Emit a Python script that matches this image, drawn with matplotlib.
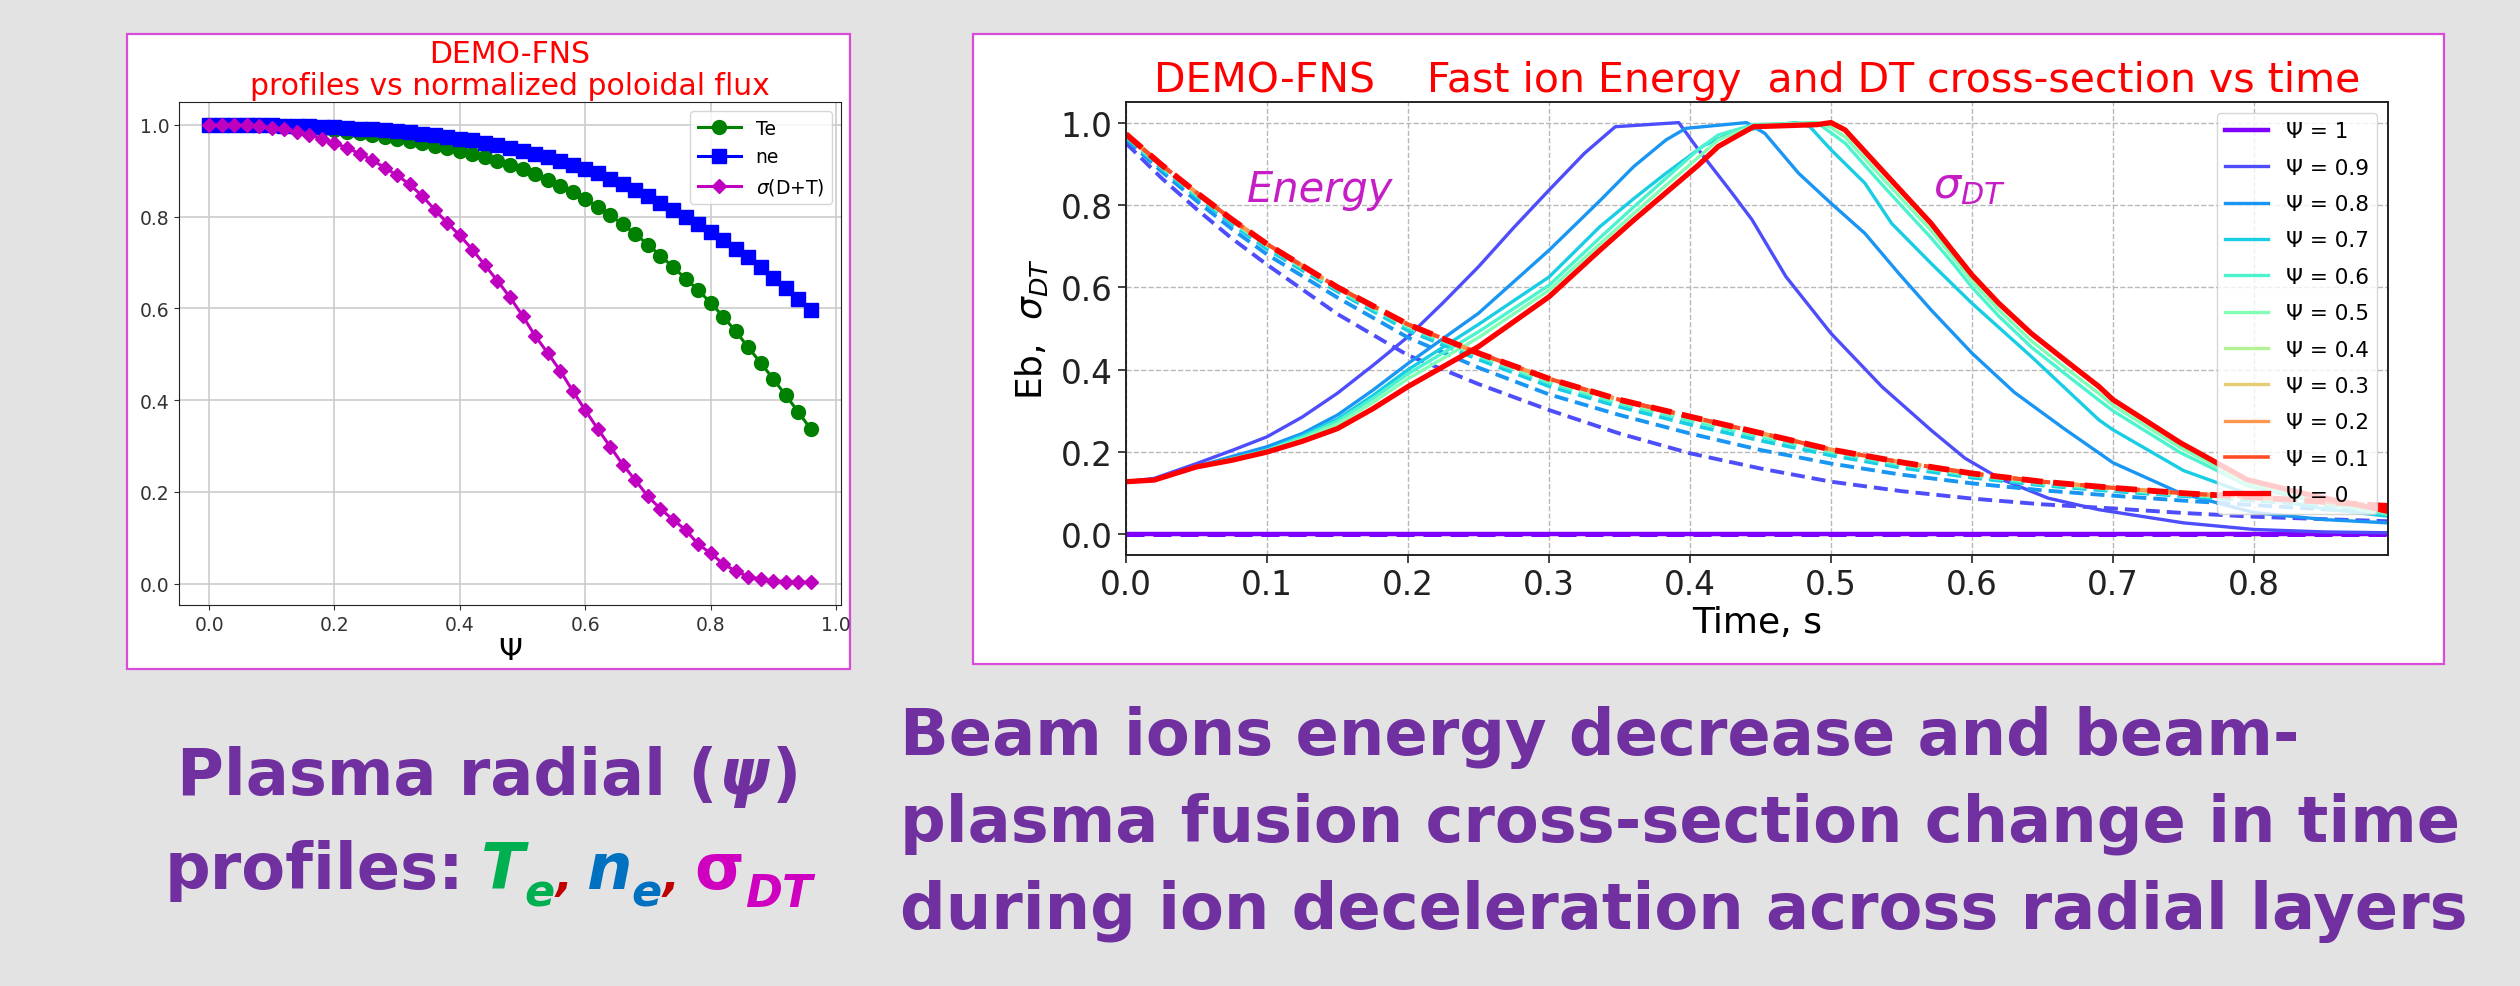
import numpy as np
import matplotlib
matplotlib.use("Agg")
import matplotlib.pyplot as plt
from matplotlib.patches import Rectangle

# ---------------- left chart: radial profiles vs normalized poloidal flux
psi = np.linspace(0.0, 0.96, 49)
te = [1.000, 1.000, 1.000, 0.999, 0.999, 0.998, 0.997, 0.995, 0.993, 0.991,
      0.988, 0.985, 0.982, 0.978, 0.974, 0.970, 0.965, 0.960, 0.955, 0.949,
      0.943, 0.936, 0.929, 0.921, 0.912, 0.903, 0.892, 0.880, 0.867, 0.853,
      0.838, 0.821, 0.803, 0.783, 0.762, 0.739, 0.715, 0.690, 0.665, 0.640,
      0.612, 0.582, 0.550, 0.515, 0.481, 0.446, 0.410, 0.374, 0.336]
ne = [1.000, 1.000, 1.000, 1.000, 0.999, 0.999, 0.998, 0.998, 0.997, 0.996,
      0.995, 0.994, 0.992, 0.991, 0.989, 0.987, 0.984, 0.981, 0.978, 0.974,
      0.970, 0.966, 0.961, 0.956, 0.950, 0.944, 0.937, 0.930, 0.922, 0.913,
      0.904, 0.894, 0.883, 0.871, 0.858, 0.845, 0.830, 0.815, 0.800, 0.784,
      0.767, 0.749, 0.730, 0.711, 0.691, 0.667, 0.644, 0.621, 0.597]
sig_dt = [1.000, 1.000, 1.000, 0.999, 0.997, 0.994, 0.990, 0.985, 0.978, 0.970,
          0.960, 0.950, 0.937, 0.923, 0.907, 0.890, 0.870, 0.845, 0.815, 0.786,
          0.759, 0.728, 0.694, 0.660, 0.624, 0.584, 0.540, 0.503, 0.464, 0.420,
          0.378, 0.337, 0.298, 0.259, 0.225, 0.190, 0.163, 0.139, 0.117, 0.086,
          0.066, 0.043, 0.027, 0.015, 0.009, 0.006, 0.004, 0.003, 0.003]

# ---------------- right chart: beam energy (dashed) and sigma_DT (solid) vs time
t_e = [0.0, 0.025, 0.05, 0.075, 0.10, 0.15, 0.20, 0.25, 0.30, 0.35, 0.40, 0.45, 0.50,
       0.55, 0.60, 0.65, 0.70, 0.75, 0.80, 0.85, 0.895]
eb_10 = [0.0] * 21
eb_09 = [0.95, 0.866, 0.79, 0.719, 0.655, 0.535, 0.435, 0.365, 0.302, 0.245, 0.197, 0.160,
         0.128, 0.105, 0.087, 0.073, 0.063, 0.052, 0.043, 0.037, 0.032]
eb_08 = [0.96, 0.882, 0.81, 0.742, 0.68, 0.575, 0.478, 0.405, 0.34, 0.29, 0.245, 0.205,
         0.172, 0.145, 0.124, 0.107, 0.094, 0.082, 0.071, 0.061, 0.053]
eb_07 = [0.965, 0.889, 0.82, 0.754, 0.693, 0.59, 0.495, 0.425, 0.36, 0.31, 0.267, 0.228,
         0.192, 0.162, 0.138, 0.119, 0.105, 0.093, 0.082, 0.071, 0.062]
eb_06 = [0.968, 0.893, 0.825, 0.76, 0.70, 0.595, 0.503, 0.433, 0.368, 0.318, 0.277, 0.237,
         0.200, 0.169, 0.143, 0.123, 0.109, 0.096, 0.086, 0.075, 0.065]
eb_05 = [0.97, 0.896, 0.828, 0.763, 0.703, 0.598, 0.507, 0.437, 0.373, 0.323, 0.282, 0.242,
         0.204, 0.172, 0.146, 0.126, 0.111, 0.098, 0.088, 0.077, 0.067]
eb_core = [0.972, 0.898, 0.83, 0.765, 0.705, 0.60, 0.51, 0.44, 0.378, 0.327, 0.286, 0.246,
           0.206, 0.175, 0.148, 0.128, 0.113, 0.100, 0.090, 0.079, 0.069]   # psi 0.4 .. 0

t_s10 = [0.0, 0.895]
s_10 = [0.0, 0.0]
t_s09 = [0.0, 0.02, 0.05, 0.076, 0.10, 0.125, 0.15, 0.175, 0.20, 0.225, 0.25, 0.275,
         0.30, 0.325, 0.347, 0.392, 0.406, 0.43, 0.444, 0.468, 0.50, 0.536, 0.571,
         0.595, 0.62, 0.654, 0.69, 0.75, 0.80, 0.85, 0.895]
s_09 = [0.128, 0.136, 0.172, 0.205, 0.237, 0.285, 0.343, 0.41, 0.48, 0.563, 0.65, 0.745,
        0.836, 0.925, 0.99, 1.0, 0.934, 0.828, 0.764, 0.626, 0.488, 0.359, 0.253,
        0.185, 0.135, 0.088, 0.060, 0.028, 0.012, 0.006, 0.004]
t_s08 = [0.0, 0.02, 0.05, 0.076, 0.10, 0.125, 0.15, 0.175, 0.20, 0.25, 0.30, 0.336, 0.36,
         0.383, 0.397, 0.44, 0.453, 0.477, 0.50, 0.524, 0.548, 0.571, 0.60, 0.63, 0.666,
         0.70, 0.748, 0.80, 0.85, 0.895]
s_08 = [0.128, 0.133, 0.165, 0.19, 0.213, 0.245, 0.29, 0.35, 0.415, 0.537, 0.69, 0.81,
        0.893, 0.958, 0.986, 1.0, 0.974, 0.877, 0.804, 0.731, 0.634, 0.545, 0.44, 0.345,
        0.255, 0.174, 0.10, 0.053, 0.036, 0.028]
t_s07 = [0.0, 0.02, 0.05, 0.076, 0.10, 0.125, 0.15, 0.175, 0.20, 0.25, 0.30, 0.336, 0.36,
         0.383, 0.41, 0.43, 0.46, 0.475, 0.485, 0.50, 0.524, 0.543, 0.571, 0.60, 0.642,
         0.69, 0.70, 0.75, 0.80, 0.85, 0.895]
s_07 = [0.128, 0.132, 0.163, 0.185, 0.205, 0.24, 0.28, 0.337, 0.40, 0.51, 0.625, 0.747,
        0.815, 0.877, 0.945, 0.975, 0.994, 1.0, 0.99, 0.934, 0.853, 0.755, 0.658, 0.561,
        0.432, 0.278, 0.254, 0.155, 0.093, 0.062, 0.044]
t_core = [0.0, 0.02, 0.05, 0.075, 0.10, 0.125, 0.15, 0.175, 0.20, 0.25, 0.30, 0.336, 0.359,
          0.383, 0.406, 0.42, 0.445, 0.49, 0.50, 0.51, 0.536, 0.571, 0.586, 0.60, 0.619,
          0.642, 0.666, 0.69, 0.70, 0.748, 0.765, 0.795, 0.843, 0.895]
s_06 = [0.128, 0.132, 0.165, 0.183, 0.204, 0.236, 0.275, 0.33, 0.39, 0.492, 0.605, 0.72,
        0.792, 0.865, 0.935, 0.97, 0.995, 1.0, 0.975, 0.95, 0.85, 0.72, 0.66, 0.60, 0.53,
        0.455, 0.39, 0.326, 0.30, 0.198, 0.17, 0.118, 0.08, 0.048]
s_05 = [0.128, 0.132, 0.165, 0.182, 0.202, 0.232, 0.268, 0.32, 0.378, 0.478, 0.593, 0.705,
        0.776, 0.848, 0.916, 0.958, 0.993, 1.0, 0.988, 0.965, 0.867, 0.738, 0.675, 0.614,
        0.545, 0.47, 0.405, 0.342, 0.313, 0.21, 0.18, 0.125, 0.087, 0.052]
s_core = [0.128, 0.132, 0.164, 0.18, 0.20, 0.226, 0.257, 0.305, 0.359, 0.456, 0.577, 0.69,
          0.76, 0.83, 0.897, 0.942, 0.99, 0.995, 1.0, 0.982, 0.885, 0.755, 0.69, 0.63,
          0.561, 0.488, 0.423, 0.359, 0.327, 0.222, 0.19, 0.133, 0.093, 0.056]   # psi 0.4 .. 0

psi_labels = ["1", "0.9", "0.8", "0.7", "0.6", "0.5", "0.4", "0.3", "0.2", "0.1", "0"]
sig_t = [t_s10, t_s09, t_s08, t_s07, t_core, t_core, t_core, t_core, t_core, t_core, t_core]
sig_v = [s_10, s_09, s_08, s_07, s_06, s_05, s_core, s_core, s_core, s_core, s_core]
eb_v = [eb_10, eb_09, eb_08, eb_07, eb_06, eb_05, eb_core, eb_core, eb_core, eb_core, eb_core]
lws = [3.2, 2.4, 2.4, 2.4, 2.4, 2.4, 2.4, 2.4, 2.4, 2.6, 3.8]

W, H = 2520, 987
PURPLE = "#7030a0"
MAG_FRAME = "#d94cd9"


def fx(px):
    return px / W


def fy(py):
    return 1 - py / H


fig = plt.figure(figsize=(W / 100, H / 100), dpi=100, facecolor="#e3e3e3")

# white panels with magenta frame
for x0, y0, x1, y1 in [(127, 35, 850, 670), (973, 35, 2444, 665)]:
    fig.add_artist(Rectangle((fx(x0), fy(y1)), (x1 - x0) / W, (y1 - y0) / H,
                             transform=fig.transFigure, facecolor="white",
                             edgecolor=MAG_FRAME, lw=1.6, zorder=0))

# ---- left axes
ax1 = fig.add_axes([fx(179), fy(606), (841 - 179) / W, (606 - 103) / H])
ax1.plot(psi, te, "-o", color="green", lw=2.2, ms=10, label="Te")
ax1.plot(psi, ne, "-s", color="blue", lw=2.2, ms=9.5, label="ne")
ax1.plot(psi, sig_dt, "-D", color="m", lw=2.2, ms=7.5, label=r"$\sigma$(D+T)")
ax1.grid(True, color="#cccccc", lw=1.2)
ax1.set_xticks([0.0, 0.2, 0.4, 0.6, 0.8, 1.0])
ax1.tick_params(labelsize=13.5, colors="#333333")
for s in ax1.spines.values():
    s.set_color("#222222")
ax1.set_xlabel("Ψ", fontsize=22, labelpad=2)
ax1.set_title("DEMO-FNS\nprofiles vs normalized poloidal flux", color="red",
              fontsize=21.5, pad=6, linespacing=1.1)
ax1.legend(loc="upper right", fontsize=13.5, handlelength=2.3)

# ---- right axes
ax2 = fig.add_axes([fx(1126), fy(556), (2388 - 1126) / W, (556 - 103) / H])
colors = plt.cm.rainbow(np.linspace(0, 1, len(psi_labels)))
for lab, ts, sv, ev, c, lw in zip(psi_labels, sig_t, sig_v, eb_v, colors, lws):
    ax2.plot(ts, sv, "-", color=c, lw=lw, label=f"Ψ = {lab}")
    ax2.plot(t_e, ev, "--", color=c, lw=lw + 0.4, dashes=(3.6, 1.8))
ax2.set_xlim(0, 0.895)
ax2.set_ylim(-0.05, 1.05)
ax2.set_xticks(np.arange(0, 0.85, 0.1))
ax2.grid(True, ls="--", color="#b8b8b8", lw=1.0)
ax2.tick_params(labelsize=23.5, length=6, width=1.2, colors="#222222")
for s in ax2.spines.values():
    s.set_color("#222222")
    s.set_linewidth(1.4)
ax2.set_xlabel("Time, s", fontsize=26, labelpad=3)
ax2.set_ylabel(r"Eb,  $\sigma_{DT}$", fontsize=26, labelpad=8)
ax2.set_title("DEMO-FNS    Fast ion Energy  and DT cross-section vs time",
              color="red", fontsize=29.5, pad=8)
ax2.text(0.086, 0.81, "Energy", color="#c41ec4", fontsize=30, style="italic")
ax2.text(0.572, 0.82, r"$\sigma_{DT}$", color="#c41ec4", fontsize=31)
ax2.legend(loc="upper right", fontsize=15.5, labelspacing=0.76, handlelength=2.0)

# ---- slide captions
cap = dict(fontsize=46, fontweight="bold", color=PURPLE, va="baseline")
fig.text(fx(900), fy(755), "Beam ions energy decrease and beam-", ha="left", **cap)
fig.text(fx(900), fy(842), "plasma fusion cross-section change in time", ha="left", **cap)
fig.text(fx(900), fy(929), "during ion deceleration across radial layers", ha="left", **cap)

renderer = fig.canvas.get_renderer()


def text_run(xc, yb, pieces):
    # pieces: (text, gap_before_px, dy_px, kwargs); centred on xc
    objs, widths = [], []
    for txt, gap, dy, kw in pieces:
        o = fig.text(0, fy(yb + dy), txt, va="baseline", ha="left", **kw)
        widths.append(o.get_window_extent(renderer).width)
        objs.append(o)
    total = sum(widths) + sum(p[1] for p in pieces)
    x = xc - total / 2
    for o, w, p in zip(objs, widths, pieces):
        x += p[1]
        o.set_x(fx(x))
        x += w


big = dict(fontsize=46, fontweight="bold")
sub = dict(fontsize=32, fontweight="bold")
text_run(489, 795, [
    ("Plasma radial (", 0, 0, dict(color=PURPLE, **big)),
    ("ψ", 2, 0, dict(color=PURPLE, style="italic", **big)),
    (")", 2, 0, dict(color=PURPLE, **big)),
])
text_run(489, 889, [
    ("profiles:", 0, 0, dict(color=PURPLE, **big)),
    ("T", 16, 0, dict(color="#00b050", style="italic", **big)),
    ("e", 0, 18, dict(color="#00b050", style="italic", **sub)),
    (",", 1, 2, dict(color="#c00000", style="italic", **sub)),
    ("n", 14, 0, dict(color="#0070c0", style="italic", **big)),
    ("e", 0, 18, dict(color="#0070c0", style="italic", **sub)),
    (",", 1, 2, dict(color="#c00000", style="italic", **sub)),
    ("σ", 14, 0, dict(color="#d000c0", **big)),
    ("DT", 2, 18, dict(color="#d000c0", style="italic", **sub)),
])

fig.savefig("out.png", dpi=100, facecolor=fig.get_facecolor())
